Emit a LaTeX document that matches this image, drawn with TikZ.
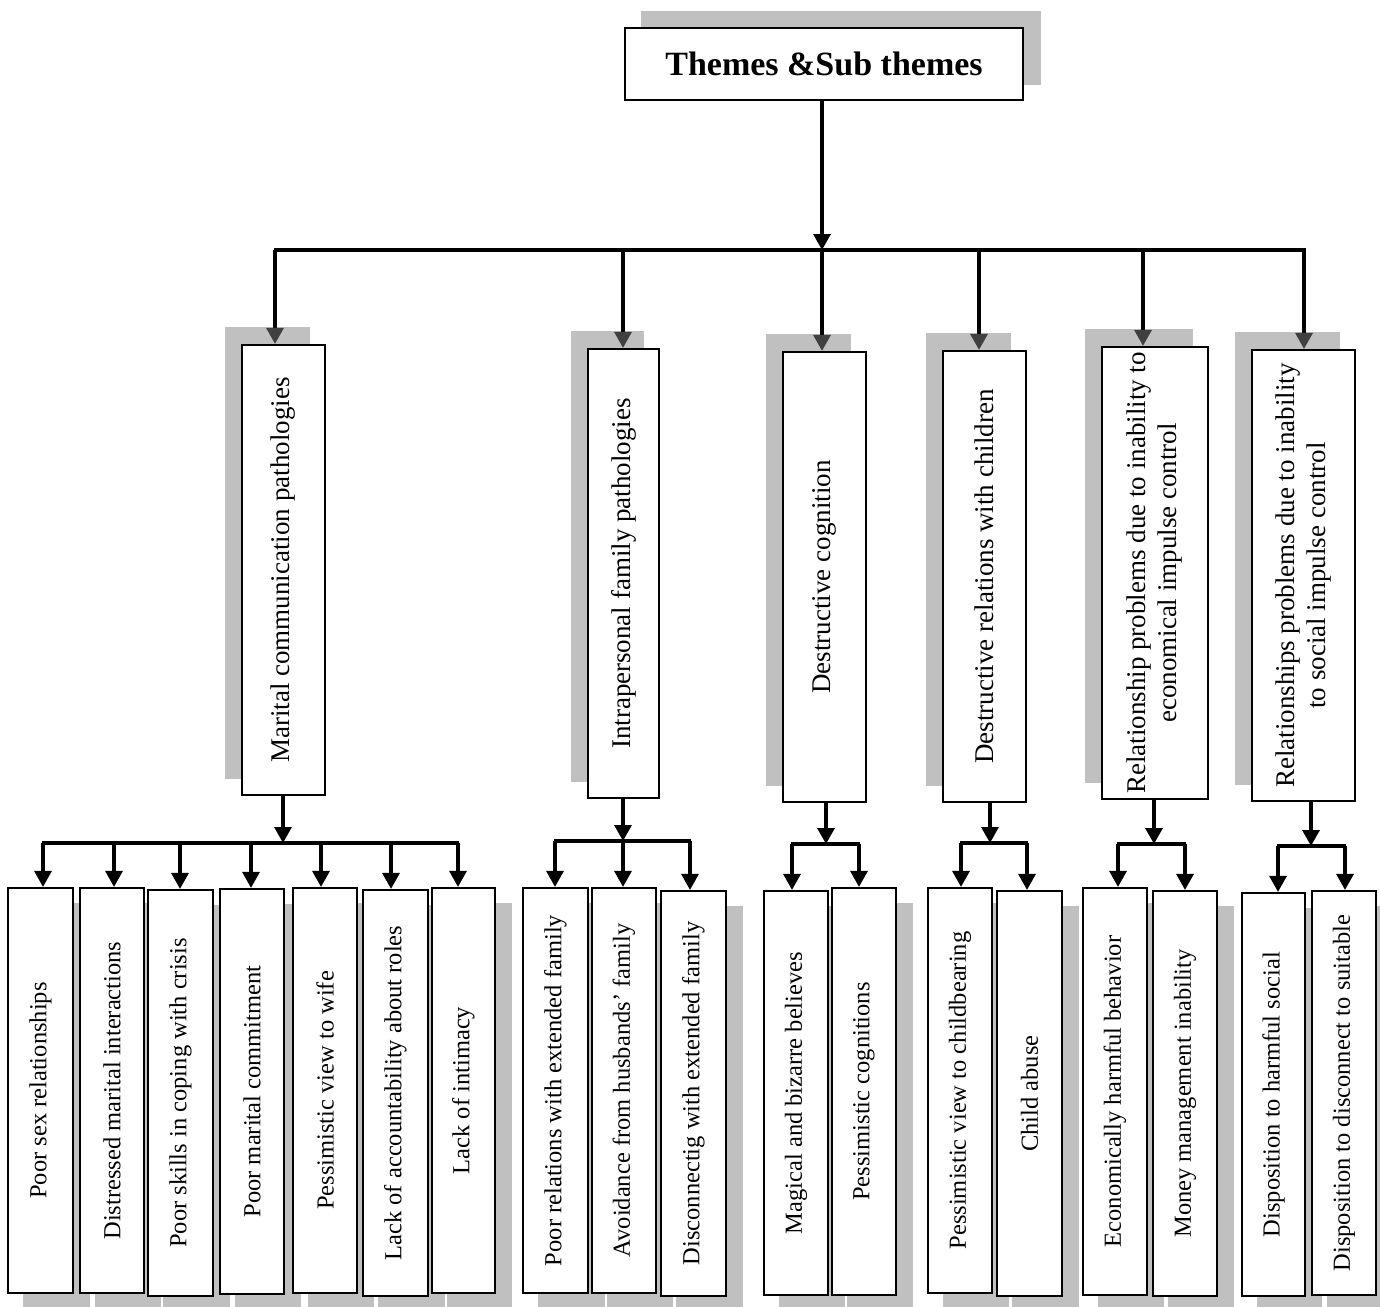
\documentclass[tikz,border=0pt]{standalone}
\usepackage{fontspec}
\setmainfont{Liberation Serif}
\usetikzlibrary{arrows.meta,backgrounds,calc}
\definecolor{shadowgray}{HTML}{C0C0C0}
\definecolor{tipgray}{HTML}{404040}
\newcommand\mkbox[7]{%
 \pgfmathsetmacro\bw{#4-#2}\pgfmathsetmacro\bh{#5-#3}%
 \node[box,#6,minimum width=\bw pt,minimum height=\bh pt] (#1) at ({(#2+#4)/2},{(#3+#5)/2}) {\rotatebox{90}{#7}};}
\begin{document}
\begin{tikzpicture}[x=1pt,y=-1pt,
 box/.style={draw=black, line width=2.2pt, fill=white, inner sep=0pt, align=center},
 conn/.style={line width=3.2pt, -{Triangle[length=16pt,width=17pt]}},
 tconn/.style={line width=3.2pt, -{Triangle[length=16pt,width=17pt,color=tipgray]}},
 barline/.style={line width=3.2pt},
 shadowbox/.style={fill=shadowgray, draw=none},
 subtxt/.style={font=\fontsize{24.5}{28}\selectfont},
 thtxt/.style={font=\fontsize{27}{31}\selectfont}]
\useasboundingbox (0,0) rectangle (1380,1306);

% title
\node[box, font=\bfseries\fontsize{34}{40}\selectfont, minimum width=398pt, minimum height=72pt] (title) at (824,64) {Themes \&Sub themes};

% themes
\mkbox{T1}{242}{345}{325}{795}{thtxt}{Marital communication pathologies}
\mkbox{T2}{588}{349}{659}{798}{thtxt}{Intrapersonal family pathologies}
\mkbox{T3}{783}{352}{866}{802}{thtxt}{Destructive cognition}
\mkbox{T4}{943}{351}{1026}{802}{thtxt}{Destructive relations with children}
\mkbox{T5}{1102}{347}{1208}{799}{thtxt}{\begin{tabular}{@{}c@{}}Relationship problems due to inability to\\economical impulse control\end{tabular}}
\mkbox{T6}{1252}{350}{1355}{801}{thtxt}{\begin{tabular}{@{}c@{}}Relationships problems due to inability\\to social impulse control\end{tabular}}

% sub themes
\mkbox{S11}{8}{888}{73}{1293}{subtxt}{Poor sex relationships}
\mkbox{S12}{80}{888}{144}{1293}{subtxt}{Distressed marital interactions}
\mkbox{S13}{148}{890}{213}{1296}{subtxt}{Poor skills in coping with crisis}
\mkbox{S14}{220}{889}{284}{1294}{subtxt}{Poor marital commitment}
\mkbox{S15}{293}{888}{357}{1293}{subtxt}{Pessimistic view to wife}
\mkbox{S16}{363}{890}{428}{1296}{subtxt}{Lack of accountability about roles}
\mkbox{S17}{432}{888}{495}{1293}{subtxt}{Lack of intimacy}
\mkbox{S21}{523}{888}{588}{1293}{subtxt}{Poor relations with extended family}
\mkbox{S22}{592}{888}{656}{1293}{subtxt}{Avoidance from husbands' family}
\mkbox{S23}{661}{891}{726}{1296}{subtxt}{Disconnectig with extended family}
\mkbox{S31}{764}{891}{828}{1295}{subtxt}{Magical and bizarre believes}
\mkbox{S32}{832}{888}{896}{1295}{subtxt}{Pessimistic cognitions}
\mkbox{S41}{928}{888}{992}{1293}{subtxt}{Pessimistic view to childbearing}
\mkbox{S42}{997}{891}{1062}{1296}{subtxt}{Child abuse}
\mkbox{S51}{1083}{888}{1147}{1295}{subtxt}{Economically harmful behavior}
\mkbox{S52}{1153}{891}{1217}{1296}{subtxt}{Money management inability}
\mkbox{S61}{1242}{893}{1305}{1296}{subtxt}{Disposition to harmful social}
\mkbox{S62}{1312}{891}{1376}{1295}{subtxt}{Disposition to disconnect to suitable}

% shadows
\begin{scope}[on background layer]
\fill[white] (0,0) rectangle (1380,1306);
\path[shadowbox] ($(title.south west)+(17,-16)$) rectangle ($(title.north east)+(17,-16)$);
\foreach \n in {T1,T2,T3,T4,T5,T6}
 \path[shadowbox] ($(\n.south west)+(-16,-17)$) rectangle ($(\n.north east)+(-16,-17)$);
\foreach \n in {S11,S12,S13,S14,S15,S16,S17,S21,S22,S23,S31,S32,S41,S42,S51,S52,S61,S62}
 \path[shadowbox] ($(\n.south west)+(16,16)$) rectangle ($(\n.north east)+(16,16)$);
\end{scope}

% top level connectors
\coordinate (topbar) at (822,250);
\coordinate (b1) at (275,250);
\coordinate (b2) at (623,250);
\coordinate (b3) at (822,250);
\coordinate (b4) at (979,250);
\coordinate (b5) at (1143,250);
\coordinate (b6) at (1304,250);
\draw[barline] (274,250) -- (1306,250);
\draw[conn] (title.south -| topbar) -- (topbar);
\draw[tconn] (b1) -- (b1 |- T1.north);
\draw[tconn] (b2) -- (b2 |- T2.north);
\draw[tconn] (b3) -- (b3 |- T3.north);
\draw[tconn] (b4) -- (b4 |- T4.north);
\draw[tconn] (b5) -- (b5 |- T5.north);
\draw[tconn] (b6) -- (b6 |- T6.north);

% group 1
\coordinate (g1) at (283,843);
\draw[barline] (42,843) -- (459,843);
\draw[conn] (T1.south -| g1) -- (g1);
\foreach \x/\n in {43/S11,114/S12,180/S13,251/S14,321/S15,391/S16,458/S17}{
 \coordinate (a) at (\x,843);
 \draw[conn] (a) -- (a |- \n.north);}
% group 2
\coordinate (g2) at (623,841);
\draw[barline] (554,841) -- (691,841);
\draw[conn] (T2.south -| g2) -- (g2);
\foreach \x/\n in {555/S21,623/S22,690/S23}{
 \coordinate (a) at (\x,841);
 \draw[conn] (a) -- (a |- \n.north);}
% group 3
\coordinate (g3) at (826,844);
\draw[barline] (791,844) -- (860,844);
\draw[conn] (T3.south -| g3) -- (g3);
\foreach \x/\n in {792/S31,859/S32}{
 \coordinate (a) at (\x,844);
 \draw[conn] (a) -- (a |- \n.north);}
% group 4
\coordinate (g4) at (990,843);
\draw[barline] (960,843) -- (1028,843);
\draw[conn] (T4.south -| g4) -- (g4);
\foreach \x/\n in {961/S41,1027/S42}{
 \coordinate (a) at (\x,843);
 \draw[conn] (a) -- (a |- \n.north);}
% group 5
\coordinate (g5) at (1154,844);
\draw[barline] (1117,844) -- (1186,844);
\draw[conn] (T5.south -| g5) -- (g5);
\foreach \x/\n in {1118/S51,1185/S52}{
 \coordinate (a) at (\x,844);
 \draw[conn] (a) -- (a |- \n.north);}
% group 6
\coordinate (g6) at (1311,846);
\draw[barline] (1277,846) -- (1346,846);
\draw[conn] (T6.south -| g6) -- (g6);
\foreach \x/\n in {1278/S61,1345/S62}{
 \coordinate (a) at (\x,846);
 \draw[conn] (a) -- (a |- \n.north);}
\end{tikzpicture}
\end{document}
